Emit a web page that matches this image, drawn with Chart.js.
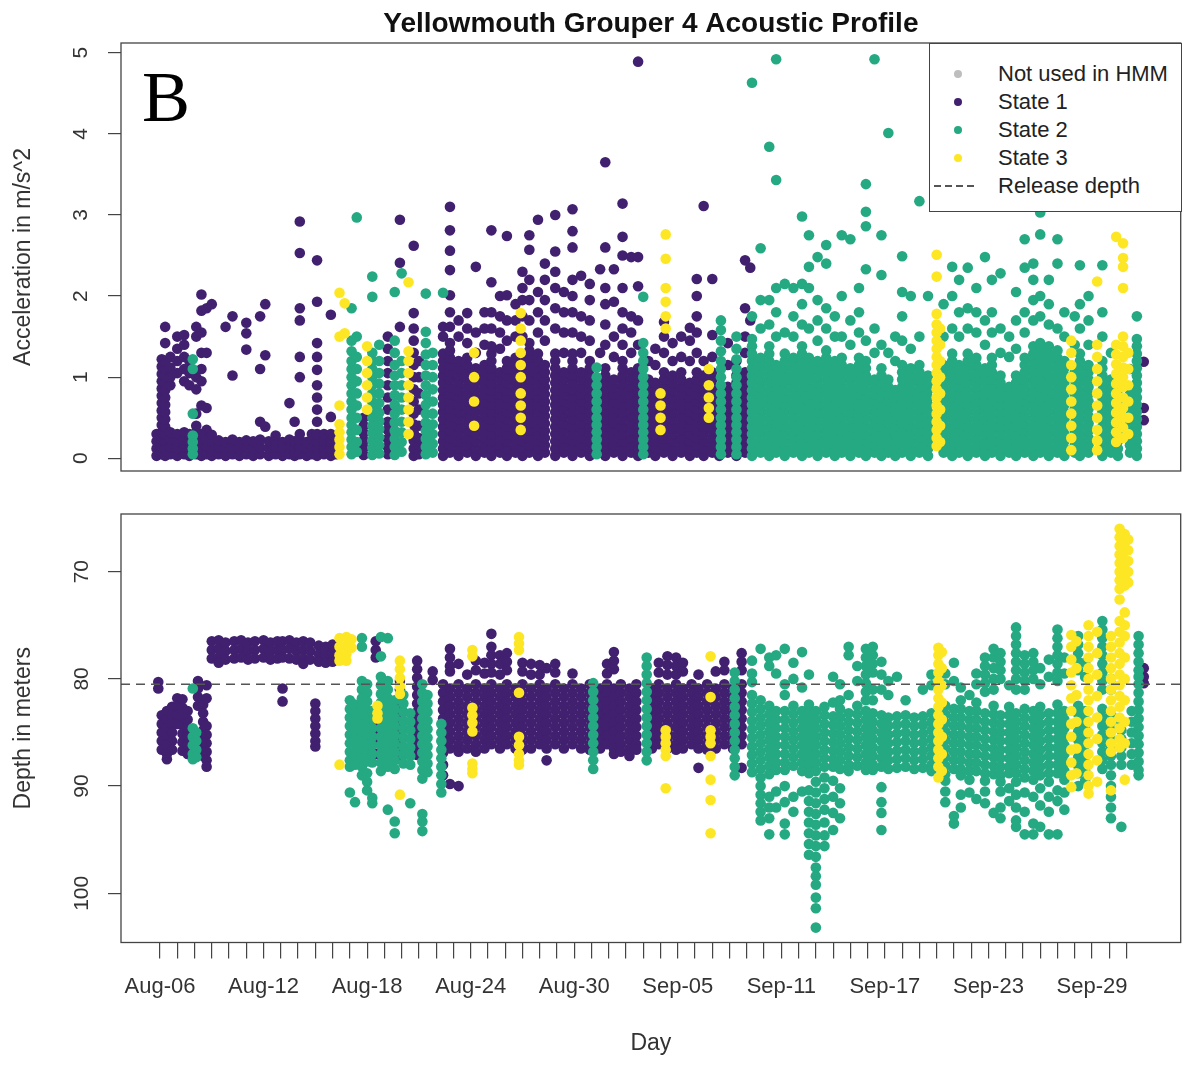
<!DOCTYPE html>
<html>
<head>
<meta charset="utf-8">
<title>Yellowmouth Grouper 4 Acoustic Profile</title>
<script src="https://cdn.jsdelivr.net/npm/chart.js@4.4.0/dist/chart.umd.min.js"></script>
<style>
  body { margin: 0; background: #fff; }
  #wrap { position: relative; width: 1186px; height: 1067px; overflow: hidden; }
  #acc-chart { position: absolute; left: 0; top: 0; }
  #depth-chart { position: absolute; left: 0; top: 480px; }
  #legend {
    position: absolute; left: 929px; top: 43px; width: 253px; height: 169px;
    box-sizing: border-box; border: 1.3px solid #444; background: #fff;
    padding-top: 16px; font: 22px "Liberation Sans", Arial, sans-serif; color: #222;
  }
  #legend .item { position: relative; height: 28px; line-height: 28px; padding-left: 68px; white-space: nowrap; }
  #legend .dot { position: absolute; left: 24px; top: 10px; width: 8px; height: 8px; border-radius: 50%; }
  #legend .dash {
    position: absolute; left: 4px; top: 13px; width: 44px; height: 2px;
    background: repeating-linear-gradient(90deg, #555 0 7px, transparent 7px 11px);
  }
</style>
</head>
<body>
<div id="wrap">
  <canvas id="acc-chart" width="1186" height="480"></canvas>
  <canvas id="depth-chart" width="1186" height="587"></canvas>
  <div id="legend">
    <div class="item"><i class="dot" style="background:#bebebe"></i>Not used in HMM</div>
    <div class="item"><i class="dot" style="background:#41206f"></i>State 1</div>
    <div class="item"><i class="dot" style="background:#25a982"></i>State 2</div>
    <div class="item"><i class="dot" style="background:#fde725"></i>State 3</div>
    <div class="item"><i class="dash"></i>Release depth</div>
  </div>
</div>
<script>
// x = days since Aug-06
const dayTicks = [0,1,2,3,4,5,6,7,8,9,10,11,12,13,14,15,16,17,18,19,20,21,22,23,24,25,26,27,28,29,30,31,32,33,34,35,36,37,38,39,40,41,42,43,44,45,46,47,48,49,50,51,52,53,54,55,56];
const dayLabels = ["Aug-06","Aug-12","Aug-18","Aug-24","Aug-30","Sep-05","Sep-11","Sep-17","Sep-23","Sep-29"];
const accTicks = [0,1,2,3,4,5];
const depthTicks = [70,80,90,100];
const releaseDepth = 80.5;

// acceleration (m/s^2), columns of [day, values]
const accState1 = [
  [-0.2,[.03,.12,.21,.3]],
  [0.1,[.05,.14,.23,.32,.41,.5,.59,.68,.77,.86,.95,1.04,1.13,1.22]],
  [0.3,[.03,.12,.21,.3,.39,.48,.57,.66,.75,.84,.93,1.02,1.11,1.2,1.42,1.62]],
  [0.6,[.05,.14,.23,.32,.9,1,1.12,1.25]],
  [1.0,[.03,.12,.21,.3,1.05,1.2,1.35,1.5]],
  [1.4,[.05,.14,.23,.32,.95,1.1,1.25,1.4,1.52]],
  [1.7,[.03,.12,.21,.3,.9,1.05,1.2]],
  [2.1,[.05,.14,.23,.32,.4,.55,.85,1,1.5,1.62]],
  [2.4,[.03,.12,.21,.3,.65,.95,1.1,1.3,1.55,1.82,2.02]],
  [2.7,[.05,.14,.23,.35,.62,1.3,1.85]],
  [3.0,[.03,.12,.21,.29,1.9]],
  [3.4,[.05,.14,.22]],
  [3.8,[.03,.12,.2,1.62]],
  [4.2,[.05,.14,.23,1.02,1.75]],
  [4.6,[.03,.12,.2]],
  [5.0,[.05,.14,.22,1.34,1.54,1.67]],
  [5.4,[.03,.12,.21]],
  [5.8,[.05,.14,.23,.45,1.1,1.75]],
  [6.1,[.39,1.27,1.9]],
  [6.3,[.03,.12,.21]],
  [6.7,[.05,.14,.22,.28]],
  [7.1,[.03,.12,.2]],
  [7.5,[.05,.14,.23,.68]],
  [7.8,[.03,.12,.21,.45]],
  [8.1,[.05,.14,.23,.3,1,1.25,1.7,1.85,2.53,2.92]],
  [8.5,[.03,.12,.2]],
  [8.8,[.05,.14,.23,.3]],
  [9.1,[.03,.12,.21,.3,.45,.6,.75,.9,1.09,1.25,1.42,1.93,2.44]],
  [9.5,[.05,.14,.22,.3]],
  [9.9,[.03,.12,.21,.3,.51,1.77]],
  [10.2,[.05,.14,.22]],
  [11.8,[.04,.13,.22,.31,.4,.5]],
  [13.2,[.05,.14,.24,.35,.45,.6,.75,.9,1.05,1.2,1.35,1.5]],
  [13.9,[1.62,2.41,2.94]],
  [14.7,[.03,.12,.22,.32,.42,.55,.7,.85,1,1.15,1.3,1.45,1.6,1.79,2.62]],
  [15.0,[.05,.15,.25,.4,.6,.8,1,1.2]],
  [16.4,[.03,.12,.21,.3,.39,.48,.57,.66,.75,.84,.93,1.02,1.11,1.2,1.29,1.5,1.62]],
  [16.8,[.07,.16,.25,.34,.43,.52,.61,.7,.79,.88,.97,1.06,1.15,1.24,1.33,1.42,1.62,1.8,2.01,2.32,2.56,2.81,3.1]],
  [17.3,[.03,.12,.21,.3,.39,.48,.57,.66,.75,.84,.93,1.02,1.11,1.2,1.5,1.7]],
  [17.8,[.07,.16,.25,.34,.43,.52,.61,.7,.79,.88,.97,1.06,1.15,1.24,1.42,1.6,1.79]],
  [18.3,[.03,.12,.21,.3,.39,.48,.57,.66,.75,.84,.93,1.02,1.11,1.3,1.55,2.36]],
  [18.8,[.07,.16,.25,.34,.43,.52,.61,.7,.79,.88,.97,1.06,1.15,1.4,1.6,1.8]],
  [19.2,[.03,.12,.21,.3,.39,.48,.57,.66,.75,.84,.93,1.02,1.11,1.2,1.29,1.38,1.6,1.8,2.17,2.81]],
  [19.7,[.07,.16,.25,.34,.43,.52,.61,.7,.79,.88,.97,1.06,1.35,1.55,1.75,2]],
  [20.1,[.03,.12,.21,.3,.39,.48,.57,.66,.75,.84,.93,1.02,1.11,1.2,1.45,1.7,2.01,2.74]],
  [20.6,[.07,.16,.25,.34,.43,.52,.61,.7,.79,.88,.97,1.06,1.15,1.24,1.5,1.7,1.9]],
  [21.0,[.03,.12,.21,.3,.39,.48,.57,.66,.75,.84,.93,1.02,1.11,1.2,1.5,1.75,1.95,2.1,2.3]],
  [21.4,[.07,.16,.25,.34,.43,.52,.61,.7,.79,.88,.97,1.06,1.15,1.24,1.33,1.42,1.7,1.95,2.2,2.57,2.75]],
  [21.9,[.03,.12,.21,.3,.39,.48,.57,.66,.75,.84,.93,1.02,1.11,1.2,1.29,1.55,1.8,2.05,2.94]],
  [22.3,[.07,.16,.25,.34,.43,.52,.61,.7,.79,.88,.97,1.06,1.15,1.45,1.7,1.95,2.2,2.4]],
  [22.9,[.03,.12,.21,.3,.39,.48,.57,.66,.75,.84,.93,1.02,1.11,1.2,1.29,1.6,1.85,2.1,2.3,2.55,3]],
  [23.4,[.07,.16,.25,.34,.43,.52,.61,.7,.79,.88,.97,1.06,1.3,1.55,1.8,2.05]],
  [23.9,[.03,.12,.21,.3,.39,.48,.57,.66,.75,.84,.93,1.02,1.11,1.2,1.29,1.55,1.8,2,2.2,2.6,2.8,3.07]],
  [24.4,[.07,.16,.25,.34,.43,.52,.61,.7,.79,.88,.97,1.06,1.3,1.5,1.75,2.25]],
  [24.9,[.03,.12,.21,.3,.39,.48,.57,.66,.75,.84,.93,1.02,1.11,1.2,1.45,1.7,1.95,2.15]],
  [25.5,[.07,.16,.25,.34,.43,.52,.61,.7,.79,.88,.97,1.3,2.33]],
  [25.8,[.03,.12,.21,.3,.39,.48,.57,.66,.75,.84,.93,1.02,1.11,1.4,1.65,1.9,2.1,2.6,3.65]],
  [26.3,[.07,.16,.25,.34,.43,.52,.61,.7,.79,.88,.97,1.25,1.5,1.93,2.33]],
  [26.8,[.03,.12,.21,.3,.39,.48,.57,.66,.75,.84,.93,1.02,1.11,1.2,1.4,1.6,1.8,2.1,2.5,2.73,3.14]],
  [27.3,[.07,.16,.25,.34,.43,.52,.61,.7,.79,.88,.97,1.06,1.3,1.55,1.75,2.48]],
  [27.7,[.03,.12,.21,.3,.39,.48,.57,.66,.75,.84,.93,1.02,1.11,1.4,1.7,2.12,2.48,4.89]],
  [28.3,[.07,.16,.25,.34,.43,.52,.61,.7,.79,.88,.97,1.2]],
  [28.7,[.03,.12,.21,.3,.39,.48,.57,.66,.75,.84,.93,1.15,1.35]],
  [29.2,[.07,.16,.25,.34,.43,.52,.61,.7,.79,.88,.97,1.06,1.3,1.5,1.68]],
  [29.7,[.03,.12,.21,.3,.39,.48,.57,.66,.75,.84,.93,1.02,1.2,1.42]],
  [30.2,[.07,.16,.25,.34,.43,.52,.61,.7,.79,.88,.97,1.06,1.25,1.5]],
  [30.7,[.03,.12,.21,.3,.39,.48,.57,.66,.75,.84,.93,1.2,1.45,1.61]],
  [31.1,[.07,.16,.25,.34,.43,.52,.61,.7,.79,.88,.97,1.06,1.3,1.55,1.75,2,2.21]],
  [31.5,[.03,.12,.21,.3,.39,.48,.57,.66,.75,.84,.93,1.02,1.2,3.11]],
  [32.0,[.07,.16,.25,.34,.43,.52,.61,.7,.79,.88,.97,1.06,1.25,1.52,2.21]],
  [32.4,[.03,.12,.21,.3,.39,.48,.57,.66,.75,.84]],
  [32.9,[.07,.16,.25,.34,.43,.52,.61,.7,.79,.88,1.15,1.42]],
  [33.4,[.03,.12,.21,.3,.39,.48,.57,.66,.75,.84,.93,1.02,1.2]],
  [33.9,[.07,.16,.25,.34,.43,.52,.61,.7,.79,.88,.97,1.06,1.3,1.5,1.85,2.44]],
  [34.2,[1.7,2.35]],
  [57.0,[.47,.62,1.19]],
];

const accState2 = [
  [1.9,[.05,.12,.2,.28,.55,1.1,1.22]],
  [11.1,[.05,.14,.23,.32,.41,.5,.6,.7,.8,.9,1,1.1,1.2,1.32,1.45,1.85]],
  [11.4,[.08,.2,.35,.5,.65,.8,.95,1.1,1.25,1.5,2.97]],
  [12.3,[.04,.13,.22,.31,.4,.5,.6,.7,.8,.9,1,1.1,1.2,1.3,1.99,2.24]],
  [12.7,[.06,.16,.26,.36,.46,.56,.68,.8,.92,1.05,1.2,1.4]],
  [13.6,[.04,.14,.24,.34,.44,.55,.66,.78,.9,1.02,1.15,1.3,1.45,2.05]],
  [14.0,[.08,.2,.32,.45,.6,.75,.9,1.05,1.2,2.28]],
  [15.4,[.05,.14,.24,.34,.44,.55,.66,.78,.9,1.02,1.15,1.28,1.42,1.56,2.03]],
  [15.8,[.07,.18,.3,.42,.55,.7,.85,1,1.15,1.3]],
  [16.4,[2.04]],
  [25.3,[.05,.14,.23,.32,.41,.5,.6,.7,.8,.9,1,1.12]],
  [28.0,[.05,.14,.23,.32,.41,.5,.6,.7,.8,.9,1,1.1,1.2,1.3,1.42,1.99]],
  [32.5,[.05,.14,.23,.32,.41,.5,.6,.7,.8,.9,1,1.1,1.2,1.32,1.45,1.58,1.7]],
  [33.4,[.05,.14,.23,.32,.41,.5,.6,.7,.8,.9,1,1.1,1.22,1.35,1.5]],
  [34.3,[.03,.12,.21,.3,.39,.48,.57,.66,.75,.84,.93,1.02,1.11,1.2,1.29,1.38,1.47,1.75,4.63]],
  [34.8,[.07,.16,.25,.34,.43,.52,.61,.7,.79,.88,.97,1.06,1.15,1.24,1.6,1.95,2.59]],
  [35.3,[.03,.12,.21,.3,.39,.48,.57,.66,.75,.84,.93,1.02,1.11,1.2,1.29,1.38,1.65,1.95,3.84]],
  [35.7,[.07,.16,.25,.34,.43,.52,.61,.7,.79,.88,.97,1.06,1.15,1.5,1.8,2.1,3.43,4.92]],
  [36.2,[.03,.12,.21,.3,.39,.48,.57,.66,.75,.84,.93,1.02,1.11,1.2,1.29,1.55,2.15]],
  [36.7,[.07,.16,.25,.34,.43,.52,.61,.7,.79,.88,.97,1.06,1.15,1.24,1.5,1.75,2.1]],
  [37.2,[.03,.12,.21,.3,.39,.48,.57,.66,.75,.84,.93,1.02,1.11,1.2,1.29,1.38,1.65,1.9,2.15,2.98]],
  [37.6,[.07,.16,.25,.34,.43,.52,.61,.7,.79,.88,.97,1.06,1.15,1.24,1.6,2.1,2.36,2.75]],
  [38.1,[.03,.12,.21,.3,.39,.48,.57,.66,.75,.84,.93,1.02,1.11,1.2,1.45,1.7,1.95,2.48]],
  [38.6,[.07,.16,.25,.34,.43,.52,.61,.7,.79,.88,.97,1.06,1.15,1.24,1.33,1.6,1.85,2.4,2.63]],
  [39.1,[.03,.12,.21,.3,.39,.48,.57,.66,.75,.84,.93,1.02,1.11,1.2,1.5,1.75]],
  [39.5,[.07,.16,.25,.34,.43,.52,.61,.7,.79,.88,.97,1.06,1.15,1.24,1.5,2,2.75]],
  [40.0,[.03,.12,.21,.3,.39,.48,.57,.66,.75,.84,.93,1.02,1.11,1.4,1.7,2.7]],
  [40.5,[.07,.16,.25,.34,.43,.52,.61,.7,.79,.88,.97,1.06,1.15,1.24,1.55,1.8,2.1]],
  [40.9,[.03,.12,.21,.3,.39,.48,.57,.66,.75,.84,.93,1.02,1.11,1.2,1.45,2.33,2.86,3.04,3.38]],
  [41.4,[.07,.16,.25,.34,.43,.52,.61,.7,.79,.88,.97,1.3,1.6,4.92]],
  [41.8,[.03,.12,.21,.3,.39,.48,.57,.66,.75,.84,.93,1.02,1.11,1.4,2.26,2.75]],
  [42.2,[.07,.16,.25,.34,.43,.52,.61,.7,.79,.88,.97,1.3,4.01]],
  [42.6,[.03,.12,.21,.3,.39,.48,.57,.66,.75,.84,1.2,1.5]],
  [43.0,[.07,.16,.25,.34,.43,.52,.61,.7,.79,.88,.97,1.06,1.15,1.45,1.75,2.05,2.49]],
  [43.5,[.03,.12,.21,.3,.39,.48,.57,.66,.75,.84,.93,1.02,1.11,1.35,2]],
  [44.0,[.07,.16,.25,.34,.43,.52,.61,.7,.79,.88,.97,1.06,1.15,1.5,3.17]],
  [44.5,[.03,.12,.21,.3,.39,.48,.57,.66,.75,.84,.93,1.02,2]],
  [45.4,[.07,.16,.25,.34,.43,.52,.61,.7,.79,.88,.97,1.06,1.15,1.5,1.9]],
  [45.9,[.03,.12,.21,.3,.39,.48,.57,.66,.75,.84,.93,1.02,1.11,1.2,1.29,1.6,2,2.36]],
  [46.3,[.07,.16,.25,.34,.43,.52,.61,.7,.79,.88,.97,1.06,1.15,1.5,1.8,2.2]],
  [46.8,[.03,.12,.21,.3,.39,.48,.57,.66,.75,.84,.93,1.02,1.11,1.2,1.29,1.6,1.85,2.35]],
  [47.3,[.07,.16,.25,.34,.43,.52,.61,.7,.79,.88,.97,1.06,1.15,1.24,1.55,1.8,2.1]],
  [47.8,[.03,.12,.21,.3,.39,.48,.57,.66,.75,.84,.93,1.02,1.11,1.4,1.7,2.48]],
  [48.2,[.07,.16,.25,.34,.43,.52,.61,.7,.79,.88,.97,1.06,1.15,1.24,1.55,1.8,2.2]],
  [48.7,[.03,.12,.21,.3,.39,.48,.57,.66,.75,.84,.93,1.02,1.3,1.6,2.28]],
  [49.2,[.07,.16,.25,.34,.43,.52,.61,.7,.79,.88,1.25,1.5]],
  [49.6,[.03,.12,.21,.3,.39,.48,.57,.66,.75,.84,.93,1.02,1.35,1.7,2.05]],
  [50.1,[.07,.16,.25,.34,.43,.52,.61,.7,.79,.88,.97,1.06,1.15,1.24,1.55,1.8,2.35,2.7]],
  [50.6,[.03,.12,.21,.3,.39,.48,.57,.66,.75,.84,.93,1.02,1.11,1.2,1.29,1.38,1.7,1.95,2.2,2.4]],
  [51.0,[.07,.16,.25,.34,.43,.52,.61,.7,.79,.88,.97,1.06,1.15,1.24,1.33,1.42,1.75,2,2.76,3.03]],
  [51.5,[.03,.12,.21,.3,.39,.48,.57,.66,.75,.84,.93,1.02,1.11,1.2,1.29,1.38,1.65,1.9,2.2]],
  [52.0,[.07,.16,.25,.34,.43,.52,.61,.7,.79,.88,.97,1.06,1.15,1.24,1.33,1.6,2.4,2.7]],
  [52.4,[.03,.12,.21,.3,.39,.48,.57,.66,.75,.84,.93,1.02,1.11,1.2,1.5,1.8]],
  [53.0,[.07,.16,.25,.34,.43,.52,.61,.7,.79,.88,.97,1.06,1.4,1.75]],
  [53.3,[.03,.12,.21,.3,.39,.48,.57,.66,.75,.84,.93,1.02,1.11,1.2,1.29,1.6,1.9,2.38]],
  [53.8,[.07,.16,.25,.34,.43,.52,.61,.7,.79,.88,.97,1.06,1.15,1.4,1.7,2]],
  [54.6,[.03,.12,.21,.3,.39,.48,.57,.66,.75,.84,.93,1.02,1.11,1.2,1.5,1.8,2.38]],
  [55.1,[.07,.16,.25,.34,.43,.52,.61,.7,.79,.88,.97,1.3]],
  [55.5,[.03,.12,.21,.3,.39,.48,.57,.66,.75,.84]],
  [56.2,[.07,.16,.25,.34,.43,.52,.61,.7,.79,1.1]],
  [56.6,[.03,.12,.21,.3,.39,.48,.57,.66,.75,.84,.93,1.02,1.11,1.2,1.29,1.38,1.47,1.75]],
];

const accState3 = [
  [10.4,[.05,.14,.23,.32,.42,.65,1.5,2.04]],
  [10.7,[1.54,1.91]],
  [12.0,[.6,.75,.9,1.05,1.2,1.38]],
  [14.4,[.3,.45,.6,.75,.9,1.05,1.2,1.32,2.17]],
  [18.2,[.4,.7,1,1.3]],
  [20.9,[.35,.5,.65,.8,1,1.15,1.3,1.45,1.6,1.79]],
  [29.0,[.35,.5,.65,.8]],
  [29.3,[1.6,1.75,1.93,2.1,2.46,2.76]],
  [31.8,[.5,.62,.75,.9,1.1]],
  [45.0,[.15,.25,.35,.45,.55,.65,.75,.85,.95,1.05,1.15,1.25,1.35,1.45,1.55,1.65,1.78,2.24,2.51]],
  [45.2,[.2,.4,.6,.8,1,1.2,1.4,1.6]],
  [52.8,[.1,.25,.4,.55,.7,.85,1,1.15,1.3,1.45]],
  [54.3,[.1,.22,.35,.5,.65,.8,.95,1.1,1.25,1.4,2.18]],
  [55.4,[.2,.32,.44,.56,.68,.8,.92,1.04,1.16,1.28,1.4,2.73]],
  [55.8,[.25,.38,.5,.62,.75,.88,1,1.12,1.25,1.38,1.5,2.1,2.36,2.47,2.65]],
  [56.1,[.3,.5,.7,.9,1.1,1.3]],
];

// depth (m), columns of [day, values]
const depthState1 = [
  [-0.1,[80.3,80.9]],
  [0.1,[83.4,84.2,85,85.8,86.6]],
  [0.4,[83,83.8,84.6,85.4,86.2,87,87.5]],
  [0.7,[82.6,83.4,84.2,85,85.8,86.6]],
  [1.0,[81.8,82.6,83.4,84.2]],
  [1.3,[81.9,82.7,83.5,84.3,85.1,85.9,86.7]],
  [1.6,[83,83.8,84.6,85.4,86.2,87]],
  [2.2,[80.2,80.9,81.7,82.5]],
  [2.5,[82.4,83.2,84,84.8,85.6,86.4,87.2]],
  [2.7,[80.6,81.8,84.4,85.2,86,86.8,87.6,88.2]],
  [3.0,[76.5,77.3,78.1]],
  [3.4,[76.4,77.2,78,78.5]],
  [3.8,[76.6,77.4,78.2]],
  [4.3,[76.5,77.3,78.1]],
  [4.7,[76.4,77.2,78]],
  [5.1,[76.6,77.4,78.2]],
  [5.5,[76.5,77.3,78.1]],
  [6.0,[76.4,77.2,78]],
  [6.4,[76.6,77.4,78.2]],
  [6.8,[76.5,77.3,78.1]],
  [7.1,[76.5,77.3,78,80.9,82.1]],
  [7.5,[76.4,77.2,78.1]],
  [7.9,[76.6,77.4,78.2]],
  [8.3,[76.5,77.3,78.1,78.6]],
  [8.7,[76.6,77.4,78.2]],
  [9.0,[82.3,83,83.7,84.4,85.1,85.8,86.3]],
  [9.2,[76.9,77.7,78.4]],
  [9.6,[77,77.8,78.5]],
  [10.0,[76.8,77.6,78.4]],
  [12.5,[76.5,77.3,78,84,85,86,87]],
  [13.9,[80.2,81,81.8,82.6,83.4,84.2,85,85.8,86.6,87.4]],
  [14.9,[78.3,79.1,79.9,80.7,81.5,82.3,83.1,83.9,84.7,85.5,86.3,87.1]],
  [15.8,[79.3,80.1]],
  [16.4,[80.5,81.3,82.1,82.9,83.7,84.5,85.3,86.1,86.9,88,89]],
  [16.8,[79.3,80.9,81.7,82.5,83.3,84.1,84.9,85.7,86.5,77.2,78,78.8,89.8]],
  [17.3,[80.5,81.3,82.1,82.9,83.7,84.5,85.3,86.1,78.6,86.8,90]],
  [17.8,[80.9,81.7,82.5,83.3,84.1,84.9,85.7,86.5,79.6]],
  [18.3,[80.5,81.3,82.1,82.9,83.7,84.5,85.3,86.1,78.3,79.2,86.8]],
  [18.8,[80.9,81.7,82.5,83.3,84.1,84.9,85.7,86.5,78.5,79.5]],
  [19.2,[80.5,81.3,82.1,82.9,83.7,84.5,85.3,86.1,75.8,77,77.8,78.6,79.4]],
  [19.7,[80.9,81.7,82.5,83.3,84.1,84.9,85.7,86.5,77.8,78.6,79.6]],
  [20.1,[80.5,81.3,82.1,82.9,83.7,84.5,85.3,86.1,77.6,78.4,79.2]],
  [20.6,[80.9,81.7,82.5,83.3,84.1,84.9,85.7,86.5]],
  [21.0,[80.5,81.3,82.1,82.9,83.7,84.5,85.3,86.1,78.5,79.3,86.6]],
  [21.5,[80.9,81.7,82.5,83.3,84.1,84.9,85.7,86.5,78.6,79.6]],
  [22.0,[80.5,81.3,82.1,82.9,83.7,84.5,85.3,86.1,78.7,79.6]],
  [22.4,[80.9,81.7,82.5,83.3,84.1,84.9,85.7,86.5,79,87.6]],
  [22.9,[80.5,81.3,82.1,82.9,83.7,84.5,85.3,86.1,78.6,79.4]],
  [23.4,[80.9,81.7,82.5,83.3,84.1,84.9,85.7,86.5]],
  [23.9,[80.5,81.3,82.1,82.9,83.7,84.5,85.3,86.1,79.5]],
  [24.4,[80.9,81.7,82.5,83.3,84.1,84.9,85.7,86.5]],
  [24.9,[80.5,81.3,82.1,82.9,83.7,84.5,85.3,86.1,86.6]],
  [25.5,[80.9,81.7,82.5,83.3,84.1,84.9,85.7,86.5]],
  [25.9,[80.5,81.3,82.1,82.9,83.7,84.5,85.3,86.1,78.6,79.5]],
  [26.3,[80.9,81.7,82.5,83.3,84.1,84.9,85.7,86.5,77.5,78.3,79.1,87]],
  [26.7,[80.5,81.3,82.1,82.9,83.7,84.5,85.3,86.1,86.8]],
  [27.2,[80.9,81.7,82.5,83.3,84.1,84.9,85.7,86.5,87.2]],
  [27.6,[80.5,81.3,82.1,82.9,83.7,84.5,85.3,86.1,86.6]],
  [28.5,[80.9,81.7,82.5,83.3,84.1,84.9,85.7,86.5]],
  [28.9,[80.5,81.3,82.1,82.9,83.7,84.5,85.3,86.1,78.5,79.4]],
  [29.4,[80.9,81.7,82.5,83.3,84.1,84.9,85.7,86.5,77.9,78.7,79.6]],
  [29.9,[80.5,81.3,82.1,82.9,83.7,84.5,85.3,86.1,78,78.8,79.6,86.6]],
  [30.3,[80.9,81.7,82.5,83.3,84.1,84.9,85.7,86.5,78.5,79.3]],
  [30.8,[80.5,81.3,82.1,82.9,83.7,84.5,85.3,86.1]],
  [31.2,[80.9,81.7,82.5,83.3,84.1,84.9,85.7,86.5,79.6,88.3]],
  [31.7,[80.5,81.3,82.1,82.9,83.7,84.5,85.3,86.1,86.6]],
  [32.2,[80.9,81.7,82.5,83.3,84.1,84.9,85.7,86.5,79.3]],
  [32.7,[80.5,81.3,82.1,82.9,83.7,84.5,85.3,86.1,78.4,79.2]],
  [33.2,[80.9,81.7,82.5,83.3,84.1,84.9,85.7,86.5]],
  [33.7,[80.5,81.3,82.1,82.9,83.7,84.5,85.3,86.1,77.6,78.4,79.2,88.3]],
  [57.0,[79,79.8,80.4]],
];

const depthState2 = [
  [1.9,[80.9,84.6,85.4,86.2,87,87.5]],
  [2.1,[85,85.8,86.6,87.3]],
  [11.0,[82,82.8,83.6,84.4,85.2,86,86.8,87.6,88.2,90.6]],
  [11.3,[82.4,83.2,84,84.8,85.6,86.4,87.2,88,91.5]],
  [11.7,[76.2,77,80.2,81,81.8,82.6,83.4,84.2,85,85.8,86.6,87.4,88.2,89]],
  [12.0,[80.5,81.3,82.1,82.9,83.7,84.5,85.3,86.1,86.9,87.7,88.8,89.6,90.4]],
  [12.3,[83,83.8,84.6,85.4,86.2,87,87.8,91.1,91.6]],
  [12.8,[76.1,77.9,79.8,80.6,81.4,82.2,83,83.8,84.6,85.4,86.2,87,87.8,88.6]],
  [13.2,[76.2,80.2,81,81.8,82.6,83.4,84.2,85,85.8,86.6,87.4,88.2,92.2]],
  [13.6,[82,82.8,83.6,84.4,85.2,86,86.8,87.6,88.4,93.3,94.4]],
  [14.1,[81.5,82.3,83.1,83.9,84.7,85.5,86.3,87.1,87.9]],
  [14.5,[83.2,84,84.8,85.6,86.4,87.2,88,91.6]],
  [15.2,[80.5,81.3,82.1,82.9,83.7,84.5,85.3,86.1,86.9,87.7,88.5,89.3,92.6,93.3,94.2]],
  [15.5,[81.5,82.3,83.1,83.9,84.7,85.5,86.3,87.1,87.9,88.7]],
  [16.3,[84.2,85,85.8,86.6,87.4,88.2,89,89.8,90.6]],
  [25.1,[80.4,81.2,82,82.8,83.6,84.4,85.2,86,86.8,87.6,88.4]],
  [28.2,[78,78.8,79.6,80.4,81.2,82,82.8,83.6,84.4,85.2,86,86.8,87.6]],
  [33.3,[79.4,80.2,81,81.8,82.6,83.4,84.2,85,85.8,86.6,87.4,88.2,89]],
  [34.3,[81.5,82.3,83.1,83.9,84.7,85.5,86.3,87.1,87.9,88.7,78.3,79.5,80.3]],
  [34.8,[82,82.8,83.6,84.4,85.2,86,86.8,87.6,88.4,89.2,90,77.2,90.8,91.6,92.4,93.2]],
  [35.3,[82.5,83.3,84.1,84.9,85.7,86.5,87.3,88.1,88.9,78,78.8,91,92,93,94.5]],
  [35.7,[83,83.8,84.6,85.4,86.2,87,87.8,88.5,77.8,79.5,90.5,92]],
  [36.2,[83,83.8,84.6,85.4,86.2,87,87.8,88.5,77.2,80.5,81.5,90,91.5,93.5,94.5]],
  [36.7,[82.5,83.3,84.1,84.9,85.7,86.5,87.3,88.1,78.5,80,91,92.4]],
  [37.2,[83,83.8,84.6,85.4,86.2,87,87.8,88.6,77.5,80.8,90.5]],
  [37.6,[82.4,83.2,84,84.8,85.6,86.4,87.2,88,88.8,79.6,90.4,91.4,92.4,93.4,94.4,95.4,96.4]],
  [38.0,[83,83.8,84.6,85.4,86.2,87,87.8,88.6,89.6,90.6,91.6,92.6,93.6,94.6,95.6,96.6,97.6,98.4,99.2,100.4,101.4,103.2]],
  [38.5,[82.6,83.4,84.2,85,85.8,86.6,87.4,88.2,89.2,90.2,91.2,92.2,93.4,94.6,95.6]],
  [39.0,[83.5,84.3,85.1,85.9,86.7,87.5,88.2,79.8,82.2,89.5,91,92.5,94.1]],
  [39.4,[82,82.8,83.6,84.4,85.2,86,86.8,87.6,88.4,80.5,90.2,91.6,93]],
  [39.9,[83.2,84,84.8,85.6,86.4,87.2,88,88.6,77,77.8,81.5]],
  [40.4,[82.5,83.3,84.1,84.9,85.7,86.5,87.3,88.1,78.8,80.2]],
  [40.9,[83,83.8,84.6,85.4,86.2,87,87.8,88.5,77.2,78,78.8,79.6,80.4,81.2,82]],
  [41.3,[83.2,84,84.8,85.6,86.4,87.2,88,88.5,77,77.8,78.6,79.4,81,82]],
  [41.8,[83.4,84.2,85,85.8,86.6,87.4,88.2,78.4,79.6,81,90.1,91.5,92.5,94.1]],
  [42.2,[83.6,84.4,85.2,86,86.8,87.6,88.4,80.2,81.5]],
  [42.7,[83.5,84.3,85.1,85.9,86.7,87.5,88.3,79.8]],
  [43.2,[83.4,84.2,85,85.8,86.6,87.4,88.2,82]],
  [43.7,[83.6,84.4,85.2,86,86.8,87.6,88.4]],
  [44.2,[83.5,84.3,85.1,85.9,86.7,87.5,88.3,81]],
  [44.7,[83.2,84,84.8,85.6,86.4,87.2,88,88.6,79.6,80.6]],
  [45.5,[82.5,83.3,84.1,84.9,85.7,86.5,87.3,88.1,88.9,89.5,79.5,80.5,90.5,91.5]],
  [46.0,[82.8,83.6,84.4,85.2,86,86.8,87.6,88.4,78.5,80.2,92.8,93.5]],
  [46.4,[82,82.8,83.6,84.4,85.2,86,86.8,87.6,88.4,89,80.8,90.8,92]],
  [46.9,[83,83.8,84.6,85.4,86.2,87,87.8,88.6,89.4,81.5,90.6]],
  [47.3,[82.2,83,83.8,84.6,85.4,86.2,87,87.8,88.6,79.5,80.5,91.2]],
  [47.8,[83.2,84,84.8,85.6,86.4,87.2,88,88.8,89.5,78,78.8,79.6,80.4,81.2,90.5,91.6]],
  [48.3,[82.5,83.3,84.1,84.9,85.7,86.5,87.3,88.1,88.9,77.2,78,79,80,81,92.5]],
  [48.7,[83.4,84.2,85,85.8,86.6,87.4,88.2,89,89.6,77.6,78.4,79.2,80,90.5,92,93]],
  [49.2,[82.6,83.4,84.2,85,85.8,86.6,87.4,88.2,88.8,80.6,90.2,91.4]],
  [49.6,[83.2,84,84.8,85.6,86.4,87.2,88,88.8,89.6,75.2,76,76.8,77.6,78.4,79.2,80,81,90.8,92,93.2,93.8]],
  [50.1,[82.8,83.6,84.4,85.2,86,86.8,87.6,88.4,89.2,77.8,78.6,79.4,80.2,81,90.6,92.4,94.5]],
  [50.6,[83,83.8,84.6,85.4,86.2,87,87.8,88.6,89.4,77.6,78.4,79.2,80,91,93.5,94.5]],
  [51.0,[82.6,83.4,84.2,85,85.8,86.6,87.4,88.2,89,79,80.5,90.2,91.8,93.8]],
  [51.5,[83.2,84,84.8,85.6,86.4,87.2,88,88.8,89.6,78.2,79.8,91,92.4,94.5]],
  [52.0,[82.4,83.2,84,84.8,85.6,86.4,87.2,88,88.8,75.4,76.2,77,77.8,78.6,79.4,80.2,90.4,91.4,94.5]],
  [52.4,[83,83.8,84.6,85.4,86.2,87,87.8,88.6,89.4,78,79.5,90.6,92.2]],
  [53.2,[82.5,83.3,84.1,84.9,85.7,86.5,87.3,88.1,88.8,76,76.8,77.6,78.4,79.2,90]],
  [53.6,[83,83.8,84.6,85.4,86.2,87,87.8,88.6,78.5,79.8,89.5]],
  [54.6,[82.8,83.6,84.4,85.2,86,86.8,87.6,88.4,74.6,75.4,76.2,77,77.8,78.6,79.4,80.2,81]],
  [55.1,[83.2,84,84.8,85.6,86.4,87.2,88,80,81,89,90,91,92,93]],
  [55.7,[84,84.8,85.6,86.4,87.2,88,93.8]],
  [56.3,[83,84,85,86,87,88]],
  [56.7,[80.5,81.3,82.1,82.9,83.7,84.5,85.3,86.1,86.9,87.7,88.5,89,76,76.8,77.6,78.4,79.2,79.8]],
];

const depthState3 = [
  [10.4,[76.2,77,77.8,78.3,88]],
  [10.8,[76.1,76.9,77.7,78.3]],
  [11.1,[76.3,77.1]],
  [12.6,[82.5,83.2,83.7]],
  [13.9,[78.3,79.1,79.9,80.7,81.4,90.8]],
  [18.1,[77.3,77.9,82.7,83.4,84.1,84.9,87.9,88.4,88.8]],
  [20.8,[76.1,76.7,77.3,81.3,85.4,86.2,87,87.6,88]],
  [29.3,[84.8,85.4,86,86.6,87.2,90.2]],
  [31.9,[77.9,81.7,84.8,85.4,86,87.2,89.4,91.3,94.4]],
  [45.1,[77.1,77.8,78.6,79.4,80.2,81,81.8,82.6,83.4,84.2,85,85.8,86.6,87.4,88.2,89.2]],
  [45.3,[77.5,79,80.6,82.2,83.8,85.4,87,88.6]],
  [52.8,[75.9,77,78.2,79.4,80.6,81.8,83,84.2,85.4,86.6,87.8,89,90.1]],
  [53.1,[76.5,79,81.5,84,86.5,88.8]],
  [53.8,[75,76,77,78,79,80,81,82,83,84,85,86,87,88,89,90,90.7]],
  [54.3,[75.6,77.6,79.6,81.6,83.6,85.6,87.6,89.6]],
  [55.1,[76,77,78,79,80,81,82,83,84,85,86,86.8,90.4]],
  [55.6,[66,66.8,67.6,68.4,69.2,70,70.8,71.6,72.6,74.6,75.6,76.6,77.6,78.6,79.6,80.6,81.6,82.6,83.6,84.6,85.6,86.4]],
  [55.9,[66.5,67.3,68.1,68.9,69.7,70.5,71.3,73.8,75,76,78,80,82,84,86,89.4]],
  [56.1,[67,68,69,70,71]],
];

const purple = "#41206f";
const teal = "#25a982";
const yellow = "#fde725";
const font = "'Liberation Sans', Arial, sans-serif";
const xMin = -2.26;
const xMax = 59.14;

const toPoints = (cols) => cols.flatMap(([d, vals]) => vals.map((v) => ({ x: d, y: v })));

const dots = (label, cols, color, order) => ({
  label,
  data: toPoints(cols),
  backgroundColor: color,
  borderWidth: 0,
  pointRadius: 5.3,
  pointHoverRadius: 5.3,
  order,
});

// box round the plot area, like R's bty="o"
const frame = {
  id: "frame",
  afterDraw(chart) {
    const { ctx, chartArea: a } = chart;
    ctx.save();
    ctx.strokeStyle = "#444";
    ctx.lineWidth = 1.3;
    ctx.strokeRect(a.left, a.top, a.right - a.left, a.bottom - a.top);
    ctx.restore();
  },
};

const panelLetter = {
  id: "panelLetter",
  afterDraw(chart) {
    const { ctx, chartArea } = chart;
    ctx.save();
    ctx.font = "72px 'Liberation Serif', 'Times New Roman', serif";
    ctx.fillStyle = "#000";
    ctx.textBaseline = "alphabetic";
    ctx.fillText("B", chartArea.left + 21, chartArea.top + 78);
    ctx.restore();
  },
};

const yAxis = (min, max, ticks, title, pad, reverse) => ({
  min,
  max,
  reverse,
  afterBuildTicks: (s) => { s.ticks = ticks.map((v) => ({ value: v })); },
  afterFit: (s) => {
    s.width = 121;
    s.paddingTop = 0;
    s.paddingBottom = 0;
  },
  border: { display: false },
  grid: { drawOnChartArea: false, drawTicks: true, tickLength: 13, color: "#444", lineWidth: 1.2 },
  ticks: { minRotation: 90, maxRotation: 90, crossAlign: "center", padding: pad, color: "#333", font: { family: font, size: 21 } },
  title: { display: true, text: title, color: "#333", font: { family: font, size: 23 }, padding: { top: 10, bottom: 0 } },
});

const accChart = new Chart(document.getElementById("acc-chart"), {
  type: "scatter",
  data: {
    datasets: [
      dots("State 3", accState3, yellow, 1),
      dots("State 2", accState2, teal, 2),
      dots("State 1", accState1, purple, 3),
    ],
  },
  options: {
    responsive: false,
    animation: false,
    events: [],
    layout: { padding: { top: 0, right: 4, bottom: 9, left: 0 } },
    plugins: {
      legend: { display: false },
      tooltip: { enabled: false },
      title: {
        display: true,
        text: "Yellowmouth Grouper 4 Acoustic Profile",
        fullSize: false,
        color: "#111",
        font: { family: font, size: 28, weight: "bold" },
        padding: { top: 7, bottom: 2.4 },
      },
    },
    scales: {
      x: { type: "linear", min: xMin, max: xMax, display: false },
      y: yAxis(-0.157, 5.12, accTicks, "Acceleration in m/s^2", 21, false),
    },
  },
  plugins: [frame, panelLetter],
});

const depthChart = new Chart(document.getElementById("depth-chart"), {
  type: "scatter",
  data: {
    datasets: [
      {
        type: "line",
        label: "Release depth",
        data: [{ x: xMin, y: releaseDepth }, { x: xMax, y: releaseDepth }],
        borderColor: "#555",
        borderWidth: 1.6,
        borderDash: [9, 6],
        pointRadius: 0,
        order: 0,
      },
      dots("State 3", depthState3, yellow, 1),
      dots("State 2", depthState2, teal, 2),
      dots("State 1", depthState1, purple, 3),
    ],
  },
  options: {
    responsive: false,
    animation: false,
    events: [],
    layout: { padding: { top: 34, right: 4, bottom: 0, left: 0 } },
    plugins: { legend: { display: false }, tooltip: { enabled: false } },
    scales: {
      x: {
        type: "linear",
        min: xMin,
        max: xMax,
        afterBuildTicks: (s) => { s.ticks = dayTicks.map((v) => ({ value: v })); },
        afterFit: (s) => { s.height = 124.5; },
        border: { display: false },
        grid: { drawOnChartArea: false, drawTicks: true, tickLength: 16, color: "#444", lineWidth: 1.2 },
        ticks: {
          autoSkip: false,
          maxRotation: 0,
          minRotation: 0,
          padding: 15,
          color: "#333",
          font: { family: font, size: 22 },
          callback: (v) => (v % 6 === 0 ? dayLabels[v / 6] : ""),
        },
        title: { display: true, text: "Day", color: "#333", font: { family: font, size: 23 }, padding: { top: 0, bottom: 10 } },
      },
      y: yAxis(64.62, 104.59, depthTicks, "Depth in meters", 8.5, true),
    },
  },
  plugins: [frame],
});
</script>
</body>
</html>
